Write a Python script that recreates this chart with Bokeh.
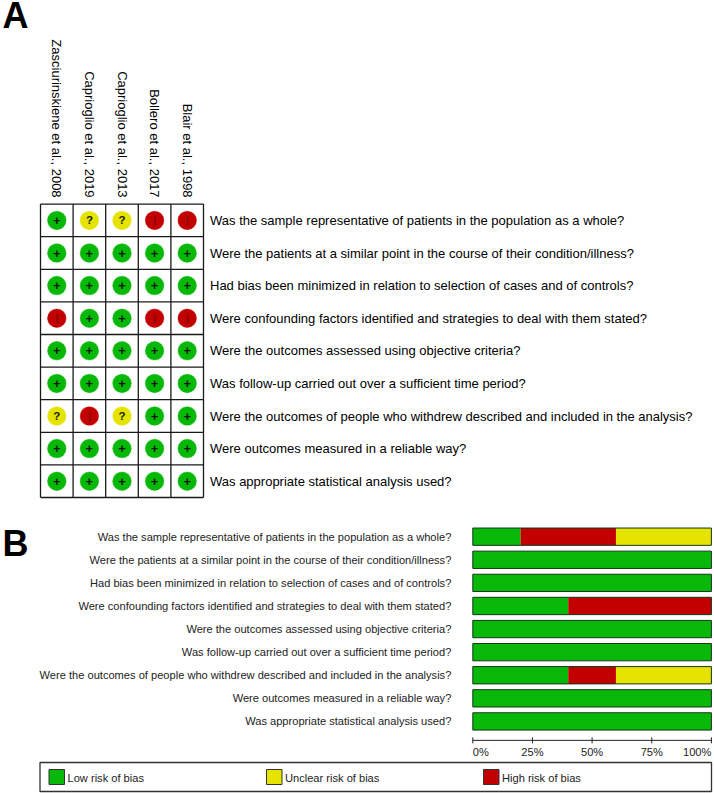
from bokeh.plotting import figure
from bokeh.models import Range1d
from bokeh.core.properties import value
from bokeh.embed import file_html
from bokeh.resources import INLINE
import math

studies = ["Zasciurinskiene et al., 2008", "Caprioglio et al., 2019", "Caprioglio et al., 2013",
           "Bollero et al., 2017", "Blair et al., 1998"]
questions_a = [
    "Was the sample representative of patients in the population as a whole?",
    "Were the patients at a similar point in the course of their condition/illness?",
    "Had bias been minimized in relation to selection of cases and of controls?",
    "Were confounding factors identified and strategies to deal with them stated?",
    "Were the outcomes assessed using objective criteria?",
    "Was follow-up carried out over a sufficient time period?",
    "Were the outcomes of people who withdrew described and included in the analysis?",
    "Were outcomes measured in a reliable way?",
    "Was appropriate statistical analysis used?",
]
judgements = [
    ["+", "?", "?", "-", "-"],
    ["+", "+", "+", "+", "+"],
    ["+", "+", "+", "+", "+"],
    ["-", "+", "+", "-", "-"],
    ["+", "+", "+", "+", "+"],
    ["+", "+", "+", "+", "+"],
    ["?", "-", "?", "+", "+"],
    ["+", "+", "+", "+", "+"],
    ["+", "+", "+", "+", "+"],
]
low_pct = [20, 100, 100, 40, 100, 100, 40, 100, 100]
high_pct = [40, 0, 0, 60, 0, 0, 20, 0, 0]
unclear_pct = [40, 0, 0, 0, 0, 0, 40, 0, 0]
pct_ticks = [0, 25, 50, 75, 100]
pct_labels = ["0%", "25%", "50%", "75%", "100%"]
legend_labels = ["Low risk of bias", "Unclear risk of bias", "High risk of bias"]
panel_letters = ["A", "B"]

W, H = 714, 793
GREEN, YELLOW, RED = "#08B808", "#E4E400", "#C20000"
FONT = value("Liberation Sans")
DARK = "#1a1a1a"

p = figure(width=W, height=H, output_backend="svg", toolbar_location=None,
           x_range=Range1d(0, W), y_range=Range1d(H, 0),
           min_border=0, min_border_left=0, min_border_right=0, min_border_top=0, min_border_bottom=0,
           outline_line_color=None, margin=(0, 0, 0, 0))
p.axis.visible = False
p.grid.visible = False
p.background_fill_color = "white"

# scales: matrix cells (column/row index) and bar chart (percent/row index)
CELL = 32.6
p.extra_x_ranges["col"] = Range1d(-0.5 - 40 / CELL, -0.5 + (W - 40) / CELL)
p.extra_y_ranges["row"] = Range1d(-0.5 + (H - 203.6) / CELL, -0.5 - 203.6 / CELL)
PCT = 2.386
p.extra_x_ranges["pct"] = Range1d(-472.3 / PCT, (W - 472.3) / PCT)
PITCH = 23.09
p.extra_y_ranges["bar"] = Range1d((H - 536.2) / PITCH, -536.2 / PITCH)

# Panel letters
p.text([2, 2], [15, 543], text=panel_letters, text_font=FONT, text_font_size="36px",
       text_font_style="bold", text_color="black", text_baseline="middle", text_align="left")

# Panel A grid
n_c, n_r = len(studies), len(questions_a)
p.segment([i - 0.5 for i in range(n_c + 1)], [-0.5] * (n_c + 1),
          [i - 0.5 for i in range(n_c + 1)], [n_r - 0.5] * (n_c + 1),
          x_range_name="col", y_range_name="row", line_color=DARK, line_width=1.3)
p.segment([-0.5] * (n_r + 1), [i - 0.5 for i in range(n_r + 1)],
          [n_c - 0.5] * (n_r + 1), [i - 0.5 for i in range(n_r + 1)],
          x_range_name="col", y_range_name="row", line_color=DARK, line_width=1.3)

colmap = {"+": GREEN, "?": YELLOW, "-": RED}
halo = {"+": "#7FE07F", "?": "#F2F28A", "-": "#E58080"}
cx, cy, cf, hf, cj = [], [], [], [], []
for r, row in enumerate(judgements):
    for c, j in enumerate(row):
        cx.append(c); cy.append(r); cf.append(colmap[j]); hf.append(halo[j]); cj.append(j)
p.scatter(cx, cy, size=19.5, marker="circle", fill_color=hf, line_color=None, x_range_name="col", y_range_name="row")
p.scatter(cx, cy, size=18.5, marker="circle", fill_color=cf, line_color=None, x_range_name="col", y_range_name="row")
for sym, glyph, color, size in [("+", "+", "#061a06", "13px"), ("?", "?", "#20200a", "11.5px"), ("-", "|", "#701010", "9px")]:
    sx = [x for x, j in zip(cx, cj) if j == sym]
    sy = [y for y, j in zip(cy, cj) if j == sym]
    p.text(sx, sy, text=[glyph] * len(sx), text_font=FONT, text_font_size=size,
           text_font_style="bold",
           text_color=color, text_align="center", text_baseline="middle", x_range_name="col", y_range_name="row")

# Study labels (rotated)
p.text(list(range(n_c)), [-0.5 - 6.5 / CELL] * n_c, text=studies, angle=-math.pi / 2, text_font=FONT,
       text_font_size="13px", text_color="black", text_align="right", text_baseline="middle",
       x_range_name="col", y_range_name="row")

# Question labels panel A
p.text([n_c - 0.5 + 6.5 / CELL] * n_r, list(range(n_r)), text=questions_a, text_font=FONT,
       text_font_size="13px", text_color="black", text_align="left", text_baseline="middle",
       x_range_name="col", y_range_name="row")

# Panel B labels
p.text([-9] * n_r, list(range(n_r)), text=questions_a, text_font=FONT, text_font_size="11.1px",
       text_color="#222222", text_align="right", text_baseline="middle", x_range_name="pct", y_range_name="bar")

# Bars
rows = list(range(n_r))
left = [0.0] * n_r
for vals, col in [(low_pct, GREEN), (high_pct, RED), (unclear_pct, YELLOW)]:
    right = [a + b for a, b in zip(left, vals)]
    p.hbar(y=rows, left=left, right=right, height=0.75, fill_color=col, line_color=None,
           x_range_name="pct", y_range_name="bar")
    left = right
p.hbar(y=rows, left=[0] * n_r, right=[100] * n_r, height=0.75, fill_color=None, line_color="#14361a",
       line_width=1, x_range_name="pct", y_range_name="bar")

# Axis of panel B
AX = 8.82
p.segment([0], [AX], [100], [AX], x_range_name="pct", y_range_name="bar", line_color="#222222", line_width=1)
p.segment(pct_ticks, [AX - 0.13] * 5, pct_ticks, [AX + 0.13] * 5, x_range_name="pct", y_range_name="bar",
          line_color="#222222", line_width=1)
p.text(pct_ticks, [AX + 0.52] * 5, text=pct_labels, text_font=FONT, text_font_size="11.1px", text_color="#222222",
       text_align=["left", "center", "center", "center", "right"], text_baseline="middle",
       x_range_name="pct", y_range_name="bar")

# Legend
p.quad(left=[39.5], right=[711], top=[762], bottom=[791], fill_color="white", line_color="#333333", line_width=1.3)
swatch_x = [48.5, 266, 483]
p.quad(left=swatch_x, right=[x + 15.5 for x in swatch_x], top=[769] * 3, bottom=[784] * 3,
       fill_color=[GREEN, YELLOW, RED], line_color="#333333", line_width=1)
p.text([x + 18.5 for x in swatch_x], [777] * 3, text=legend_labels, text_font=FONT, text_font_size="11.1px",
       text_color="#222222", text_align="left", text_baseline="middle")

open("out.html", "w").write(file_html(p, INLINE))
